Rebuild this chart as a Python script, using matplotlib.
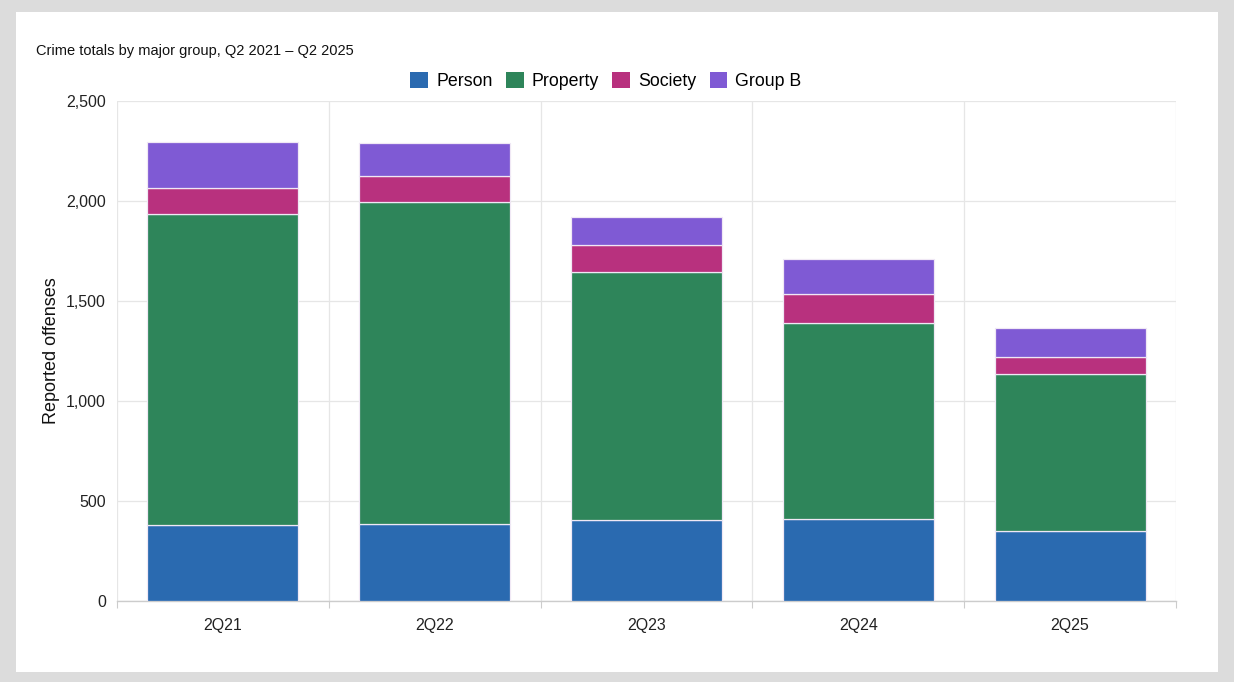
import matplotlib.pyplot as plt
import numpy as np
from matplotlib.patches import Rectangle

plt.rcParams['font.family'] = ['Liberation Sans', 'DejaVu Sans']

# data
quarters = ['2Q21', '2Q22', '2Q23', '2Q24', '2Q25']
person = [380, 385, 403, 412, 352]
property_ = [1557, 1610, 1240, 978, 785]
society = [128, 128, 137, 145, 85]
group_b = [228, 167, 138, 173, 143]

series = [('Person', person, '#2a6ab0'),
          ('Property', property_, '#2e855a'),
          ('Society', society, '#b8317e'),
          ('Group B', group_b, '#7f5ad4')]

W, H = 1234, 682
fig = plt.figure(figsize=(W / 100, H / 100), dpi=100)
fig.patch.set_facecolor('#dcdcdc')
fig.add_artist(Rectangle((16 / W, 1 - 672 / H), (1218 - 16) / W, (672 - 12) / H,
                         transform=fig.transFigure, facecolor='white',
                         edgecolor='none', zorder=0))

ax = fig.add_axes([117 / W, 1 - 601 / H, (1176 - 117) / W, 500 / H])
ax.set_facecolor('white')

x = np.arange(len(quarters))
bottom = np.zeros(len(quarters))
for name, vals, col in series:
    ax.bar(x, vals, width=0.713, bottom=bottom, color=col, label=name,
           edgecolor='#f0e8f5', linewidth=0.9, zorder=3)
    bottom += np.array(vals)

ax.set_xlim(-0.5, len(quarters) - 0.5)
ax.set_ylim(0, 2500)
ax.set_yticks(range(0, 2501, 500))
ax.set_yticklabels([f'{v:,}' for v in range(0, 2501, 500)], fontsize=11.5, color='#222222')
ax.set_xticks(x)
ax.set_xticklabels(quarters, fontsize=11.5, color='#222222')
ax.tick_params(axis='x', length=0, pad=12)
ax.tick_params(axis='y', length=0, pad=8)

# grid
ax.set_xticks(np.arange(-0.5, len(quarters)), minor=True)
ax.tick_params(axis='x', which='minor', length=5, color='#cccccc', width=0.8)
ax.grid(True, axis='y', color='#e6e6e6', linewidth=0.9, zorder=0)
ax.grid(True, axis='x', which='minor', color='#e6e6e6', linewidth=0.9, zorder=0)
ax.grid(False, axis='x', which='major')

for s in ['top', 'right', 'left']:
    ax.spines[s].set_visible(False)
ax.spines['bottom'].set_color('#cccccc')
ax.spines['bottom'].set_linewidth(1.0)

ax.set_ylabel('Reported offenses', fontsize=13, color='#111111', labelpad=4)

fig.text(36 / W, 1 - 51 / H, 'Crime totals by major group, Q2 2021 \u2013 Q2 2025',
         fontsize=10.5, color='#111111', va='center', ha='left')

leg = fig.legend(loc='center', bbox_to_anchor=(606 / W, 1 - 81 / H), ncol=4,
                 frameon=False, fontsize=12.8, handlelength=1.0, handleheight=1.0,
                 handletextpad=0.45, columnspacing=0.75)
for h in leg.legend_handles:
    h.set_edgecolor('none')

fig.savefig('out.png', dpi=100, facecolor=fig.get_facecolor())
